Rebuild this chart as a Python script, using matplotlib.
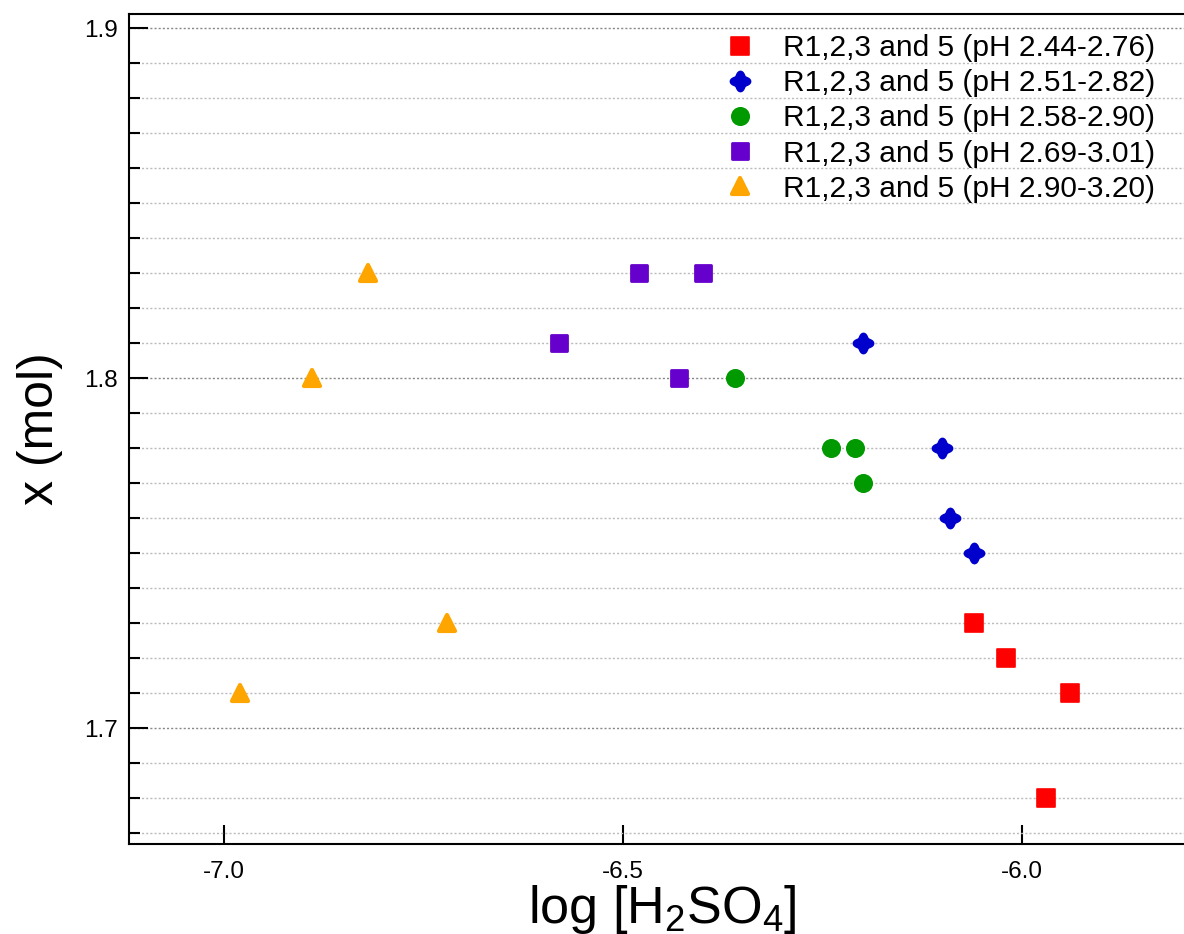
import numpy as np
import matplotlib
matplotlib.use("Agg")
import matplotlib.pyplot as plt
from matplotlib.path import Path
from matplotlib.markers import MarkerStyle
from matplotlib.ticker import MultipleLocator

plt.rcParams['font.family'] = ['Liberation Sans', 'DejaVu Sans']
plt.rcParams['mathtext.default'] = 'regular'

# data: log[H2SO4] vs x (mol)
labels = ["R1,2,3 and 5 (pH 2.44-2.76)",
          "R1,2,3 and 5 (pH 2.51-2.82)",
          "R1,2,3 and 5 (pH 2.58-2.90)",
          "R1,2,3 and 5 (pH 2.69-3.01)",
          "R1,2,3 and 5 (pH 2.90-3.20)"]
red_x = [-6.06, -6.02, -5.94, -5.97]
red_y = [1.73, 1.72, 1.71, 1.68]
blue_x = [-6.20, -6.10, -6.09, -6.06]
blue_y = [1.81, 1.78, 1.76, 1.75]
green_x = [-6.36, -6.24, -6.21, -6.20]
green_y = [1.80, 1.78, 1.78, 1.77]
purple_x = [-6.48, -6.40, -6.58, -6.43]
purple_y = [1.83, 1.83, 1.81, 1.80]
orange_x = [-6.82, -6.89, -6.72, -6.98]
orange_y = [1.83, 1.80, 1.73, 1.71]


def clover():
    # rounded four-lobed cross marker
    t = np.linspace(0, 2 * np.pi, 80)
    r = 1 + 0.2 * np.cos(4 * t)
    v = np.column_stack([r * np.cos(t), r * np.sin(t)])
    return Path(v, closed=True)


def main():
    fig = plt.figure(figsize=(11.84, 9.34), dpi=100)
    ax = fig.add_axes([129 / 1184, 90 / 934, 1060 / 1184, 830 / 934])

    styles = [
        (red_x, red_y, 's', '#FF0000', 12.5, 1.2),
        (blue_x, blue_y, clover(), '#0000CC', 14.5, 1.2),
        (green_x, green_y, 'o', '#009900', 12.5, 1.2),
        (purple_x, purple_y, 's', '#6600CC', 11.5, 2.0),
        (orange_x, orange_y, '^', '#FFA500', 11.5, 3.0),
    ]
    for (xs, ys, mk, col, ms, mew), lab in zip(styles, labels):
        ax.plot(xs, ys, linestyle='none', marker=MarkerStyle(mk, joinstyle='round'),
                color=col, markersize=ms, markeredgewidth=mew, markeredgecolor=col,
                markerfacecolor=col, label=lab, zorder=3)

    ax.set_xlim(-7.119, -5.791)
    ax.set_ylim(1.6669, 1.9041)
    ax.set_xticks([-7.0, -6.5, -6.0])
    ax.set_xticklabels(['-7.0', '-6.5', '-6.0'])
    ax.yaxis.set_major_locator(MultipleLocator(0.1))
    ax.yaxis.set_minor_locator(MultipleLocator(0.01))
    ax.yaxis.set_major_formatter(plt.FuncFormatter(lambda v, p: f"{v:.1f}"))

    ax.tick_params(axis='both', which='major', direction='in', length=13.5, width=1.5,
                   labelsize=17.5, color='black')
    ax.tick_params(axis='y', which='minor', direction='in', length=8, width=1.5)
    ax.tick_params(axis='x', which='major', pad=12)
    ax.tick_params(axis='y', which='major', pad=8)

    ax.grid(True, axis='y', which='minor', linestyle=(0, (1.5, 1.5)), color='#BBBBBB', linewidth=1.0)
    ax.grid(True, axis='y', which='major', linestyle=(0, (1.5, 1.5)), color='#888888', linewidth=1.0)
    ax.set_axisbelow(True)

    for s in ['left', 'top', 'bottom']:
        ax.spines[s].set_linewidth(1.5)
    ax.spines['right'].set_visible(False)

    ax.set_ylabel('x (mol)', fontsize=36)
    ax.yaxis.set_label_coords(-0.0623, 0.5)
    ax.set_xlabel('log [H$_2$SO$_4$]', fontsize=37.5, va='baseline')
    ax.xaxis.set_label_coords(0.503, -0.0952)

    ax.legend(loc='upper left', bbox_to_anchor=(725 / 1184, 1 - 34 / 934),
              bbox_transform=fig.transFigure, frameon=False, fontsize=21.5,
              numpoints=1, handlelength=1.0, handletextpad=0.94,
              labelspacing=0.24, borderpad=0, borderaxespad=0)

    fig.savefig('out.png', dpi=100)


if __name__ == "__main__":
    main()
